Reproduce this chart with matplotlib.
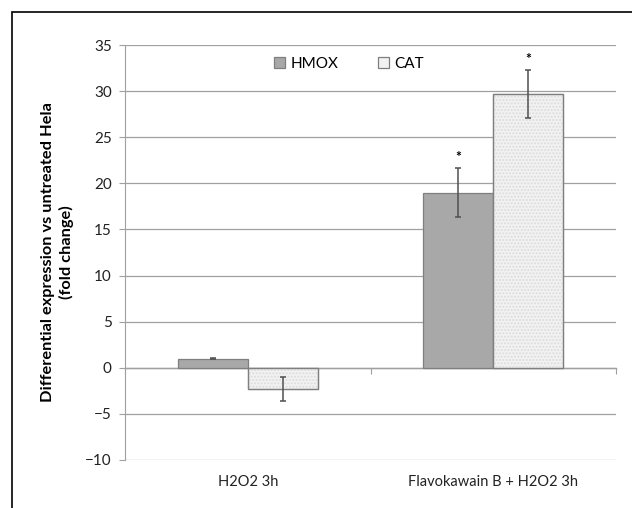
import numpy as np
import matplotlib
matplotlib.use("Agg")
import matplotlib.pyplot as plt
from matplotlib.patches import Rectangle

plt.rcParams['font.family'] = ['Lato', 'DejaVu Sans']

# data
categories = ["H2O2 3h", "Flavokawain B + H2O2 3h"]
series = ["HMOX", "CAT"]
hmox = [1.0, 19.0]
hmox_err = [0.1, 2.7]
cat = [-2.3, 29.7]
cat_err = [1.3, 2.6]
stars = [[False, True], [False, True]]  # per series, per category
yticks = list(range(-10, 36, 5))

fig = plt.figure(figsize=(6.32, 5.08), dpi=100)
ax = fig.add_axes([0.1978, 0.0945, 0.9747 - 0.1978, 0.9114 - 0.0945])

# outer frame (figure is cropped, only top and left edges show)
fig.patches.append(Rectangle((12 / 632, -0.1), 1.2, 1 - 12 / 508 + 0.1,
                             transform=fig.transFigure, fill=False,
                             edgecolor='black', linewidth=1.2))

x = np.arange(len(categories))
w = 0.2857  # excel gap width 150%
fills = ['#a8a8a8', '#f2f2f2']
vals = [hmox, cat]
errs = [hmox_err, cat_err]

ax.set_xlim(-0.5, len(categories) - 0.5)
ax.set_ylim(-10, 35)
ax.set_yticks(yticks)
ax.grid(axis='y', color='#a0a0a0', linewidth=0.9)
ax.set_axisbelow(True)

for i, (v, e, fc) in enumerate(zip(vals, errs, fills)):
    pos = x + (i - 0.5) * w
    ax.bar(pos, v, w, color=fc, edgecolor='#7f7f7f', linewidth=0.9,
           label=series[i], zorder=2)
    if i == 1:
        ax.bar(pos, v, w, color='none', edgecolor='#dcdcdc', hatch='.....',
               linewidth=0, zorder=2)
        ax.bar(pos, v, w, color='none', edgecolor='#7f7f7f', linewidth=0.9,
               zorder=2)
    ax.errorbar(pos, v, yerr=e, fmt='none', ecolor='#505050', elinewidth=1.1,
                capsize=2.5, capthick=1.1, zorder=3)
    for j in range(len(categories)):
        if stars[i][j]:
            ax.text(pos[j], v[j] + e[j] + 0.5, '*', ha='center', va='bottom',
                    fontsize=10, fontweight='bold', color='black')

for s in ['top', 'right', 'bottom']:
    ax.spines[s].set_visible(False)
ax.spines['left'].set_color('#a0a0a0')
ax.tick_params(axis='y', length=4.5, color='#a0a0a0', labelsize=11, pad=5,
               labelcolor='#222222')

# category labels at the bottom, no tick marks
ax.set_xticks(x)
ax.set_xticklabels(categories, fontsize=10.5, color='#222222')
ax.tick_params(axis='x', length=0, pad=11)

# zero line with category boundary ticks
ymin, ymax = ax.get_ylim()
zx = ax.secondary_xaxis((0 - ymin) / (ymax - ymin))
zx.set_xticks(np.arange(-0.5, len(categories), 1.0))
zx.set_xticklabels([])
zx.tick_params(length=4, color='#a0a0a0', direction='out')
zx.spines['bottom'].set_color('#a0a0a0')
zx.spines['bottom'].set_linewidth(1.0)

ax.set_ylabel("Differential expression vs untreated Hela\n(fold change)",
              fontsize=11.8, fontweight='bold', labelpad=8, linespacing=1.3)

leg = ax.legend(loc='center', bbox_to_anchor=(0.456, 0.955), ncol=2,
                frameon=False, fontsize=11, handlelength=0.7,
                handleheight=0.7, handletextpad=0.35, columnspacing=2.6)

fig.savefig("out.png", dpi=100)
